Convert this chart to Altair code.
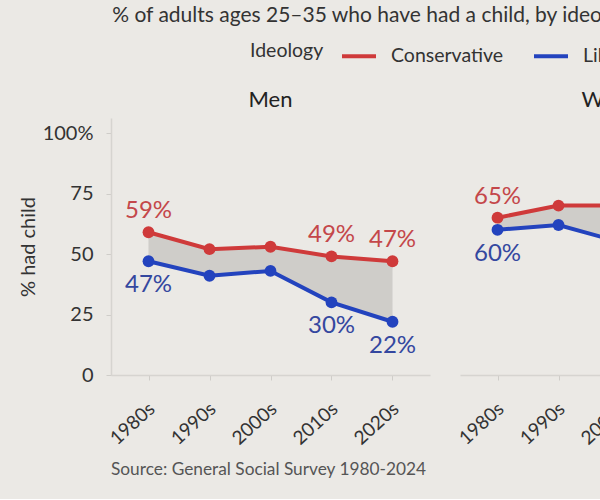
import altair as alt
import pandas as pd

# Share of adults aged 25-35 who have had a child, by decade, sex and ideology
decades = ["1980s", "1990s", "2000s", "2010s", "2020s"]
men_conservative = [59, 52, 53, 49, 47]
men_liberal = [47, 41, 43, 30, 22]
women_conservative = [65, 70, 70, 66, 63]
women_liberal = [60, 62, 55, 46, 40]
labelled_decades = ["1980s", "2010s", "2020s"]

ideologies = ["Conservative", "Liberal"]
line_colors = ["#cf3a3a", "#2343be"]
label_colors = {"Conservative": "#c4474a", "Liberal": "#34479f"}
ribbon_color = "#cdcbc7"
background = "#ebe9e5"

subtitle = "% of adults ages 25\u201335 who have had a child, by ideology"
caption = "Source: General Social Survey 1980-2024"

series = {
    "Men": (men_conservative, men_liberal),
    "Women": (women_conservative, women_liberal),
}

long_rows, wide_rows = [], []
for sex, (cons, lib) in series.items():
    for d, c, l in zip(decades, cons, lib):
        wide_rows.append({"sex": sex, "decade": d, "cons": c, "lib": l})
        for ideo, v in (("Conservative", c), ("Liberal", l)):
            long_rows.append({"sex": sex, "decade": d, "ideology": ideo, "pct": v,
                              "label": f"{v}%", "show": d in labelled_decades})
long_df = pd.DataFrame(long_rows)
wide_df = pd.DataFrame(wide_rows)

W, H = 319, 257
x_scale = alt.Scale(type="point", domain=decades, padding=0.615)
y_scale = alt.Scale(domain=[0, 106.2], nice=False, zero=True)


def panel(sex, first):
    x_axis = alt.Axis(title=None, grid=False, labelAngle=318, labelAlign="right",
                      labelBaseline="top", labelPadding=19, labelOffset=-3, labelFontSize=19,
                      labelColor="#333", tickSize=5, tickColor="#cfcdc9",
                      domainColor="#d6d4d0", domainWidth=1.5)
    if first:
        y_axis = alt.Axis(title="% had child", grid=False, values=[0, 25, 50, 75, 100],
                          labelExpr="datum.value == 100 ? '100%' : datum.value",
                          labelFontSize=20, labelColor="#333", labelPadding=13,
                          titleFontSize=20, titleFontWeight="normal", titleColor="#333",
                          titlePadding=4, tickSize=5, tickColor="#cfcdc9",
                          domainColor="#d6d4d0", domainWidth=1.5)
    else:
        y_axis = None

    ld = long_df[long_df.sex == sex]
    wd = wide_df[wide_df.sex == sex]
    x = alt.X("decade:N", scale=x_scale, axis=x_axis, sort=decades)

    ribbon = alt.Chart(wd).mark_area(color=ribbon_color, opacity=0.95).encode(
        x=x, y=alt.Y("cons:Q", scale=y_scale, axis=y_axis), y2="lib:Q")
    color = alt.Color("ideology:N", scale=alt.Scale(domain=ideologies, range=line_colors),
                      legend=alt.Legend(title="Ideology", orient="none", direction="horizontal",
                                        legendX=139, legendY=-81, titleOrient="left",
                                        titleFontSize=19.5, titleFontWeight="normal",
                                        titleColor="#333", titlePadding=16,
                                        labelFontSize=19.5, labelColor="#333", labelOffset=13,
                                        symbolType="stroke", symbolSize=1156,
                                        symbolStrokeWidth=4, columnPadding=22))
    lines = alt.Chart(ld).mark_line(strokeWidth=4).encode(
        x=x, y=alt.Y("pct:Q", scale=y_scale), color=color)
    points = alt.Chart(ld).mark_circle(size=140, opacity=1).encode(
        x=x, y=alt.Y("pct:Q", scale=y_scale), color=alt.Color("ideology:N", legend=None))

    shown = ld[ld.show]
    cons_text = alt.Chart(shown[shown.ideology == "Conservative"]).mark_text(
        dy=-21, fontSize=24, color=label_colors["Conservative"]).encode(
        x=x, y=alt.Y("pct:Q", scale=y_scale), text="label:N")
    lib_text = alt.Chart(shown[shown.ideology == "Liberal"]).mark_text(
        dy=24, fontSize=24, color=label_colors["Liberal"]).encode(
        x=x, y=alt.Y("pct:Q", scale=y_scale), text="label:N")

    layers = [ribbon, lines, points, cons_text, lib_text]
    if first:
        source = alt.Chart(pd.DataFrame({"t": [caption]})).mark_text(
            align="left", baseline="middle", fontSize=17.3, color="#555").encode(
            x=alt.value(0), y=alt.value(352), text="t:N")
        layers.append(source)

    return alt.layer(*layers).properties(
        width=W, height=H,
        title=alt.TitleParams(sex, fontSize=22, fontWeight="normal", color="#222",
                              anchor="middle", offset=6))


# The right-hand panel runs past the page edge; the negative right padding trims it there.
chart = alt.hconcat(panel("Men", True), panel("Women", False), spacing=25).resolve_scale(
    color="shared").properties(
    title=alt.TitleParams(subtitle, anchor="start", fontSize=21, fontWeight="normal",
                          color="#333", offset=11, dx=94),
    background=background,
    padding={"left": 18, "top": 5, "right": -179, "bottom": 20},
).configure(font="Lato").configure_view(strokeWidth=0).configure_axis(grid=False)

chart.save("out.html", embed_options={"renderer": "svg", "actions": False})
